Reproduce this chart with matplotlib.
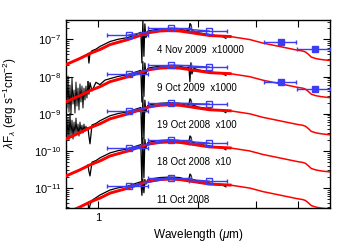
import numpy as np
import matplotlib
matplotlib.use('Agg')
import matplotlib.pyplot as plt
from matplotlib.ticker import LogLocator, NullFormatter, FixedLocator, FixedFormatter

plt.rcParams['font.family'] = ['Liberation Sans', 'DejaVu Sans']
plt.rcParams['mathtext.fontset'] = 'custom'
plt.rcParams['mathtext.rm'] = 'Liberation Sans'
plt.rcParams['mathtext.it'] = 'Liberation Sans:italic'
plt.rcParams['mathtext.bf'] = 'Liberation Sans:bold'

nan = np.nan

# ---------------- data ----------------
epochs = ['4 Nov 2009', '9 Oct 2009', '19 Oct 2008', '18 Oct 2008', '11 Oct 2008']
multipliers = [10000, 1000, 100, 10, 1]
mult_labels = ['x10000', 'x1000', 'x100', 'x10', '']

# model spectrum (log10 lambda F_lambda, unscaled)
model_wave = [0.800, 0.880, 0.944, 1.013, 1.086, 1.231, 1.365, 1.432, 1.535, 1.650,
              1.763, 1.891, 2.024, 2.169, 2.500, 2.864, 3.135, 3.530, 3.970, 4.140,
              4.220, 4.310, 4.390, 4.530, 4.710, 5.000]
model_logf = [-11.675, -11.513, -11.378, -11.270, -11.136, -11.001, -10.866, -10.812, -10.772, -10.758,
              -10.772, -10.812, -10.853, -10.893, -10.920, -11.001, -11.095, -11.190, -11.284, -11.311,
              -11.338, -11.405, -11.473, -11.513, -11.540, -11.567]

# noisy far-red part of two observed spectra (log10, unscaled)
noise_wave = [0.8000, 0.8056, 0.8112, 0.8168, 0.8225, 0.8282, 0.8340, 0.8398, 0.8456, 0.8515,
              0.8574, 0.8634, 0.8694, 0.8754, 0.8815, 0.8876, 0.8938, 0.9000, 0.9063, 0.9126,
              0.9189, 0.9253]
noise_9oct09 = [-11.092, -11.846, -10.984, -11.954, -11.226, -12.035, -11.038, -11.739, -11.361, -11.981,
                -11.146, -11.792, -11.307, -11.900, -11.199, -11.685, -11.253, -11.846, -11.307, -11.631,
                -11.253, -11.577]
noise_19oct08 = [-11.035, -11.655, -11.116, -11.709, -10.981, -11.601, -11.170, -11.682, -11.224, -11.574,
                 -11.116, -11.547, -11.278, -11.601, -11.224, -11.493, -11.305, -11.520, -11.278, -11.466,
                 -11.332, -11.439]
noises = [None, noise_9oct09, noise_19oct08, None, None]

# observed near-IR spectra (log10 lambda F_lambda, unscaled)
spec_wave = [0.932, 0.938, 0.945, 0.958, 0.985, 1.012, 1.048, 1.085, 1.147, 1.229,
             1.299, 1.345, 1.355, 1.364, 1.374, 1.383, 1.393, 1.412, 1.452, 1.535,
             1.646, 1.764, 1.839, 1.878, 1.891, 1.904, 1.917, 1.944, 1.999, 2.084,
             2.172, 2.264, 2.360, 2.428]

spec_4nov09 = [-11.378, -11.635, -11.378, -11.303, -11.260, -11.189, -11.122, -11.055, -10.995, -10.947,
               -10.874, -10.804, -11.629, -10.489, -11.451, -10.580, -10.950, -10.774, -10.750, -10.718,
               -10.704, -10.718, -10.769, -10.753, -10.569, -10.599, -10.766, -10.774, -10.818, -10.842,
               -10.866, -10.901, -10.909, -10.969]
spec_9oct09 = [-11.135, -11.473, -11.162, -11.384, -11.152, -11.216, -11.095, -11.055, -10.995, -10.947,
               -10.874, -10.831, -11.683, -10.596, -11.532, -10.634, -10.923, -10.774, -10.750, -10.718,
               -10.704, -10.718, -10.769, -10.753, -11.135, -10.626, -10.928, -10.774, -10.818, -10.842,
               -10.866, -10.901, -10.909, -10.969]
spec_19oct08 = [-11.378, -11.608, -11.809, -11.303, -11.260, -11.189, -11.122, -11.055, -10.995, -10.947,
                -10.874, -10.831, -11.817, -10.543, -11.667, -10.634, -10.950, -10.774, -10.750, -10.718,
                -10.704, -10.718, -10.769, -10.753, -10.596, -10.626, -10.766, -10.774, -10.818, -10.842,
                -10.866, -10.901, -10.909, -10.969]
spec_18oct08 = [-11.378, -11.554, -11.674, -11.303, -11.260, -11.189, -11.122, -11.055, -10.995, -10.947,
                -10.874, -10.831, -11.898, -10.650, -11.720, -10.688, -10.923, -10.774, -10.750, -10.718,
                -10.704, -10.718, -10.769, -10.753, -10.596, -10.626, -10.766, -10.774, -10.818, -10.842,
                -10.866, -10.901, -10.909, -10.969]
spec_11oct08 = [-11.405, -11.608, -11.459, -11.330, -11.260, -11.189, -11.122, -11.055, -10.995, -10.947,
                -10.874, -10.831, -11.197, -10.758, -11.128, -10.769, -10.896, -10.774, -10.750, -10.718,
                -10.704, -10.718, -10.769, -10.753, -10.623, -10.653, -10.766, -10.774, -10.818, -10.842,
                -10.866, -10.901, -10.909, -10.969]
spectra = [spec_4nov09, spec_9oct09, spec_19oct08, spec_18oct08, spec_11oct08]

# photometry (log10, unscaled)
jhk_wave = [1.235, 1.66, 2.16]
jhk_xerr = [0.175, 0.25, 0.28]
jhk_logf = [[-10.879, -10.690, -10.771],
            [-10.930, -10.687, -10.741],
            [-10.927, -10.712, -10.739],
            [-10.925, -10.709, -10.790],
            [-10.949, -10.733, -10.814]]
irac_wave = [3.55, 4.49]
irac_xerr = [0.39, 0.50]
irac_logf = [[-11.067, -11.256],
             [-11.146, -11.334],
             None, None, None]

# ---------------- plot ----------------
fig = plt.figure(figsize=(3.5, 2.5), dpi=100)
ax = fig.add_axes([66/350, 1-208/250, 264/350, 188/250])

blue = '#3c3cf0'
mw = np.array(model_wave)
ml = np.array(model_logf)
sw = np.array(spec_wave)
thick = mw <= 2.5

for i in range(len(epochs)):
    m = multipliers[i]
    if noises[i] is not None:
        ax.plot(noise_wave + [spec_wave[0]], 10**np.array(noises[i] + [spectra[i][0]]) * m,
                color='black', lw=0.7, zorder=2)
    sf = 10**np.array(spectra[i]) * m
    ax.plot(sw, sf, color='black', lw=0.9, zorder=2)
    mf = 10**ml * m
    ax.plot(mw, mf, color='red', lw=1.1, zorder=3)
    ax.plot(mw[thick], mf[thick], color='red', lw=2.1, zorder=3)
    jf = 10**np.array(jhk_logf[i]) * m
    ax.errorbar(jhk_wave, jf, xerr=jhk_xerr, color=blue, lw=1.0, marker='s', ms=4,
                mfc='none', mec=blue, mew=1.0, capsize=1.5, zorder=5)
    if irac_logf[i] is not None:
        irf = 10**np.array(irac_logf[i]) * m
        ax.errorbar(irac_wave, irf, xerr=irac_xerr, color=blue, lw=1.0, marker='s', ms=5,
                    mfc=blue, mec=blue, ls='none', capsize=1.5, zorder=5)

ax.set_xscale('log')
ax.set_yscale('log')
ax.set_xlim(0.8, 5.0)
ax.set_ylim(2.9e-12, 3.35e-7)

ax.xaxis.set_major_locator(FixedLocator([1, 2, 3, 4]))
ax.xaxis.set_major_formatter(FixedFormatter(['1', '', '', '']))
ax.xaxis.set_minor_locator(FixedLocator([]))
ax.xaxis.set_minor_formatter(NullFormatter())
ax.yaxis.set_major_locator(LogLocator(base=10, numticks=20))
ax.yaxis.set_minor_locator(LogLocator(base=10, subs=np.arange(2, 10), numticks=20))
ax.yaxis.set_minor_formatter(NullFormatter())

ax.tick_params(which='both', direction='in', top=True, right=True, labelsize=8)
ax.tick_params(which='major', length=5, width=0.8)
ax.tick_params(which='minor', length=2.5, width=0.6)
for s in ax.spines.values():
    s.set_linewidth(1.0)

ax.set_xlabel(r'Wavelength ($\mu$m)', fontsize=8.5, labelpad=3)
ax.set_ylabel(r'$\lambda$F$_\lambda$ (erg s$^{-1}$cm$^{-2}$)', fontsize=8.5)
ax.yaxis.set_label_coords(-0.178, 0.556)

label_y = [0.840, 0.638, 0.441, 0.245, 0.043]
for i in range(len(epochs)):
    txt = epochs[i] + ('  ' + mult_labels[i] if mult_labels[i] else '')
    ax.text(0.345, label_y[i], txt, transform=ax.transAxes, fontsize=7,
            ha='left', va='center', zorder=6)

fig.savefig('out.png', dpi=100)
